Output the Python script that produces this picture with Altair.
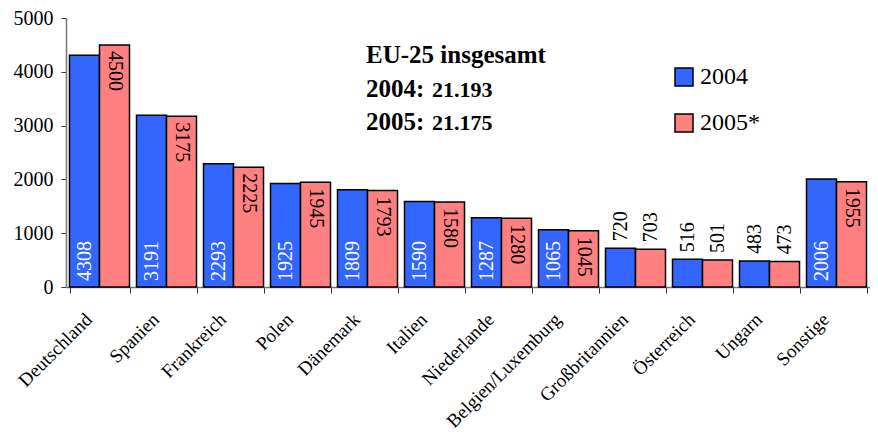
import altair as alt
import pandas as pd

lands = ["Deutschland", "Spanien", "Frankreich", "Polen", "Dänemark", "Italien",
         "Niederlande", "Belgien/Luxemburg", "Großbritannien", "Österreich",
         "Ungarn", "Sonstige"]
years = ["2004", "2005*"]
v2004 = [4308, 3191, 2293, 1925, 1809, 1590, 1287, 1065, 720, 516, 483, 2006]
v2005 = [4500, 3175, 2225, 1945, 1793, 1580, 1280, 1045, 703, 501, 473, 1955]
colors = ["#3366FF", "#FF8080"]
y_ticks = [0, 1000, 2000, 3000, 4000, 5000]

note_title = "EU-25 insgesamt"
note_years = ["2004:", "2005:"]
note_totals = ["21.193", "21.175"]

rows = []
for i, land in enumerate(lands):
    rows.append({"land": land, "jahr": years[0], "wert": v2004[i]})
    rows.append({"land": land, "jahr": years[1], "wert": v2005[i]})
df = pd.DataFrame(rows)

FONT = "Liberation Serif"
W, H = 804, 269

x_enc = alt.X(
    "land:N", sort=lands, title=None,
    scale=alt.Scale(paddingInner=7 / 67, paddingOuter=3.5 / 67),
    axis=alt.Axis(labelAngle=-45, labelAlign="right", labelBaseline="middle",
                  labelFontSize=19, labelFont=FONT, labelPadding=23, labelLimit=400,
                  labelOffset=-11,
                  labelColor="black", tickSize=6, tickBand="extent",
                  domainColor="#777777", tickColor="#333333", domainWidth=1.5),
)
xo_enc = alt.XOffset("jahr:N", sort=years,
                     scale=alt.Scale(paddingInner=0, paddingOuter=0))
y_scale = alt.Scale(domain=[0, 5000], nice=False)
y_enc = alt.Y(
    "wert:Q", title=None, scale=y_scale,
    axis=alt.Axis(values=y_ticks, format="d", grid=False, tickSize=5, labelPadding=8,
                  labelFontSize=20, labelFont=FONT, labelColor="black",
                  domainColor="#777777", tickColor="#333333", domainWidth=1.5),
)

base = alt.Chart(df)

bars = base.mark_bar(stroke="black", strokeWidth=1.5).encode(
    x=x_enc, xOffset=xo_enc, y=y_enc,
    color=alt.Color(
        "jahr:N", scale=alt.Scale(domain=years, range=colors),
        legend=alt.Legend(title=None, orient="none", legendX=606, legendY=47,
                          symbolType="square", symbolSize=324,
                          symbolStrokeColor="black", symbolStrokeWidth=1.5,
                          labelFontSize=24, labelFont=FONT, labelColor="black",
                          rowPadding=22, labelOffset=4, padding=0),
    ),
)

blue_in = base.transform_filter(
    "datum.jahr == '2004' && datum.wert >= 1000"
).transform_calculate(null_wert="0").mark_text(
    angle=270, align="left", baseline="middle", dx=6, color="white",
    fontSize=20, font=FONT,
).encode(x=alt.X("land:N", sort=lands), xOffset=alt.XOffset("jahr:N", sort=years),
         y=alt.Y("null_wert:Q", scale=y_scale), text="wert:Q")

red_in = base.transform_filter(
    "datum.jahr == '2005*' && datum.wert >= 1000"
).mark_text(
    angle=90, align="left", baseline="middle", dx=6, color="black",
    fontSize=20, font=FONT,
).encode(x=alt.X("land:N", sort=lands), xOffset=alt.XOffset("jahr:N", sort=years),
         y=alt.Y("wert:Q", scale=y_scale), text="wert:Q")

small = base.transform_filter("datum.wert < 1000").mark_text(
    angle=270, align="left", baseline="middle", dx=7, color="black",
    fontSize=20, font=FONT,
).encode(x=alt.X("land:N", sort=lands), xOffset=alt.XOffset("jahr:N", sort=years),
         y=alt.Y("wert:Q", scale=y_scale), text="wert:Q")


def note(txt, px, py, size):
    return alt.Chart(pd.DataFrame({"t": [txt]})).mark_text(
        align="left", baseline="alphabetic", fontWeight="bold", fontSize=size,
        font=FONT, color="black",
    ).encode(x=alt.value(px), y=alt.value(py), text="t:N")


notes = [
    note(note_title, 300, 45, 25),
    note(note_years[0], 300, 79, 25),
    note(note_totals[0], 366, 79, 22),
    note(note_years[1], 300, 112, 25),
    note(note_totals[1], 366, 112, 22),
]

chart = alt.layer(bars, blue_in, red_in, small, *notes).properties(
    width=W, height=H,
    autosize=alt.AutoSizeParams(type="none"),
    padding={"left": 58, "top": 10, "right": 0, "bottom": 146},
    background="white",
).configure(font=FONT).configure_view(stroke=None).resolve_scale(x="shared", y="shared")

chart.save("out.html", embed_options={"renderer": "svg", "actions": False})
